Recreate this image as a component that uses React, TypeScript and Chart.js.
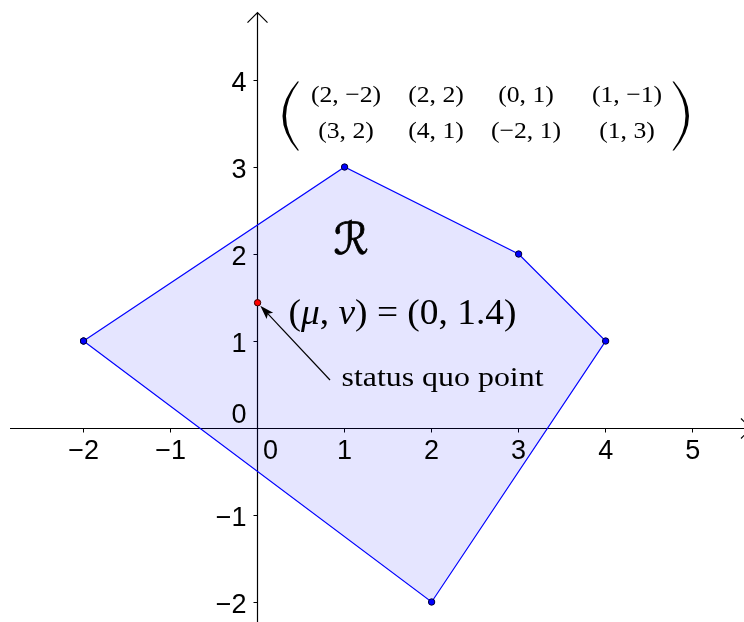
import React, { useEffect, useRef } from 'react';
import { Chart, registerables } from 'chart.js';

Chart.register(...registerables);

// ---- data ----
const polygonX = [-2, 1, 3, 4, 2, -2];
const polygonY = [1, 3, 2, 1, -2, 1];
const statusQuoX = [0];
const statusQuoY = [1.44];
const xTicks = [-2, -1, 0, 1, 2, 3, 4, 5];
const xTickLabels = ['−2', '−1', '0', '1', '2', '3', '4', '5'];
const yTicks = [-2, -1, 0, 1, 2, 3, 4];
const yTickLabels = ['−2', '−1', '0', '1', '2', '3', '4'];
const matrixRow1 = ['(2, −2)', '(2, 2)', '(0, 1)', '(1, −1)'];
const matrixRow2 = ['(3, 2)', '(4, 1)', '(−2, 1)', '(1, 3)'];
const regionLabel = 'ℛ';
const pointLabel = '(μ, ν) = (0, 1.4)';
const arrowLabel = 'status quo point';
const xRange = [-2.96, 5.59];
const yRange = [-2.23, 4.92];

const W = 744;
const H = 622;

function fitText(ctx: CanvasRenderingContext2D, text: string, left: number, baseline: number, width: number) {
  const m = ctx.measureText(text).width;
  ctx.save();
  ctx.translate(left, baseline);
  ctx.scale(width / m, 1);
  ctx.textAlign = 'left';
  ctx.textBaseline = 'alphabetic';
  ctx.fillText(text, 0, 0);
  ctx.restore();
}

function centerText(ctx: CanvasRenderingContext2D, text: string, cx: number, baseline: number, sx: number) {
  ctx.save();
  ctx.translate(cx, baseline);
  ctx.scale(sx, 1);
  ctx.textAlign = 'center';
  ctx.textBaseline = 'alphabetic';
  ctx.fillText(text, 0, 0);
  ctx.restore();
}

function bigParen(ctx: CanvasRenderingContext2D, xEnd: number, top: number, bottom: number, dir: number) {
  // dir = -1 for left paren (bulges left), +1 for right paren
  const mid = (top + bottom) / 2;
  ctx.beginPath();
  ctx.moveTo(xEnd, top);
  ctx.quadraticCurveTo(xEnd + dir * 30, mid, xEnd, bottom);
  ctx.lineTo(xEnd - dir * 1.5, bottom);
  ctx.quadraticCurveTo(xEnd + dir * 24.5, mid, xEnd - dir * 1.5, top);
  ctx.closePath();
  ctx.fill();
}

const overlay = {
  id: 'overlay',
  beforeDatasetsDraw(chart: any) {
    const { ctx } = chart;
    const xs = chart.scales.x;
    const ys = chart.scales.y;
    const x0 = xs.getPixelForValue(0);
    const y0 = Math.round(ys.getPixelForValue(0)) + 0.5;
    const xa = Math.round(x0) - 0.5;
    ctx.save();
    ctx.strokeStyle = '#000';
    ctx.lineWidth = 1.2;
    // x axis with arrow
    const xTip = W + 7;
    ctx.beginPath();
    ctx.moveTo(10, y0);
    ctx.lineTo(xTip, y0);
    ctx.moveTo(xTip - 10, y0 - 10);
    ctx.lineTo(xTip, y0);
    ctx.lineTo(xTip - 10, y0 + 10);
    ctx.stroke();
    // y axis with arrow
    const yTip = 12.7;
    ctx.beginPath();
    ctx.moveTo(xa, H);
    ctx.lineTo(xa, yTip);
    ctx.moveTo(xa - 10, yTip + 10);
    ctx.lineTo(xa, yTip);
    ctx.lineTo(xa + 10, yTip + 10);
    ctx.stroke();
    // ticks
    ctx.lineWidth = 1;
    ctx.beginPath();
    xTicks.forEach((v) => {
      if (v === 0) return;
      const px = Math.round(xs.getPixelForValue(v)) - 0.5;
      ctx.moveTo(px, y0);
      ctx.lineTo(px, y0 + 4);
    });
    yTicks.forEach((v) => {
      if (v === 0) return;
      const py = Math.round(ys.getPixelForValue(v)) + 0.5;
      ctx.moveTo(xa - 4, py);
      ctx.lineTo(xa, py);
    });
    ctx.stroke();
    ctx.restore();
  },
  afterDatasetsDraw(chart: any) {
    const { ctx } = chart;
    const xs = chart.scales.x;
    const ys = chart.scales.y;
    const x0 = xs.getPixelForValue(0);
    const y0 = ys.getPixelForValue(0);
    ctx.save();
    ctx.fillStyle = '#000';
    // tick labels
    ctx.font = '27px "Liberation Sans", Arial, sans-serif';
    ctx.textBaseline = 'middle';
    xTicks.forEach((v, i) => {
      ctx.textAlign = 'center';
      const px = v === 0 ? x0 + 13 : xs.getPixelForValue(v);
      ctx.fillText(xTickLabels[i], px, y0 + 24);
    });
    yTicks.forEach((v, i) => {
      ctx.textAlign = 'right';
      const py = v === 0 ? y0 - 12 : ys.getPixelForValue(v) + 3.5;
      ctx.fillText(yTickLabels[i], x0 - 11, py);
    });

    // matrix
    ctx.font = '24px "Liberation Serif", "Times New Roman", serif';
    const colCenters = [346, 436, 526, 627];
    matrixRow1.forEach((t, i) => centerText(ctx, t, colCenters[i], 101.5, 1.07));
    matrixRow2.forEach((t, i) => centerText(ctx, t, colCenters[i], 138, 1.07));
    bigParen(ctx, 297.5, 81.5, 150.5, -1);
    bigParen(ctx, 674, 81.5, 150.5, 1);

    // region label
    ctx.font = '44px "DejaVu Serif", "DejaVu Sans", serif';
    ctx.textAlign = 'center';
    ctx.textBaseline = 'alphabetic';
    ctx.strokeStyle = '#000';
    ctx.lineWidth = 0.8;
    ctx.fillText(regionLabel, 351, 254);
    ctx.strokeText(regionLabel, 351, 254);

    // point label with italic greek letters
    const runs: { t: string; it: boolean }[] = [];
    for (const ch of pointLabel) {
      const it = /[α-ω]/.test(ch);
      if (runs.length && runs[runs.length - 1].it === it) runs[runs.length - 1].t += ch;
      else runs.push({ t: ch, it });
    }
    const fontReg = '35px "Liberation Serif", "Times New Roman", serif';
    const fontIt = 'italic 35px "Liberation Serif", "Times New Roman", serif';
    let total = 0;
    runs.forEach((r) => {
      ctx.font = r.it ? fontIt : fontReg;
      total += ctx.measureText(r.t).width;
    });
    const left = 288.5;
    const target = 228;
    ctx.save();
    ctx.translate(left, 324);
    ctx.scale(target / total, 1);
    ctx.textAlign = 'left';
    let cx = 0;
    runs.forEach((r) => {
      ctx.font = r.it ? fontIt : fontReg;
      ctx.fillText(r.t, cx, 0);
      cx += ctx.measureText(r.t).width;
    });
    ctx.restore();

    // status quo text
    ctx.font = '28px "Liberation Serif", "Times New Roman", serif';
    fitText(ctx, arrowLabel, 341.5, 386, 202);

    // arrow to status quo point
    const tx = xs.getPixelForValue(statusQuoX[0]);
    const ty = ys.getPixelForValue(statusQuoY[0]);
    const sx = 330;
    const sy = 380;
    const dx = tx - sx;
    const dy = ty - sy;
    const len = Math.hypot(dx, dy);
    const ux = dx / len;
    const uy = dy / len;
    const ex = tx - ux * 4;
    const ey = ty - uy * 4;
    const hl = 14;
    const hw = 4.5;
    ctx.strokeStyle = '#000';
    ctx.lineWidth = 1.2;
    ctx.beginPath();
    ctx.moveTo(sx, sy);
    ctx.lineTo(ex - ux * hl * 0.8, ey - uy * hl * 0.8);
    ctx.stroke();
    ctx.beginPath();
    ctx.moveTo(ex, ey);
    ctx.lineTo(ex - ux * hl - uy * hw, ey - uy * hl + ux * hw);
    ctx.lineTo(ex - ux * hl * 0.8, ey - uy * hl * 0.8);
    ctx.lineTo(ex - ux * hl + uy * hw, ey - uy * hl - ux * hw);
    ctx.closePath();
    ctx.fill();
    ctx.restore();
  },
};

export default function App() {
  const ref = useRef<HTMLCanvasElement | null>(null);
  useEffect(() => {
    if (!ref.current) return;
    const chart = new Chart(ref.current, {
      type: 'scatter',
      data: {
        datasets: [
          {
            label: 'status quo',
            data: statusQuoX.map((x, i) => ({ x, y: statusQuoY[i] })),
            pointRadius: 3.2,
            pointBackgroundColor: '#ff0000',
            pointBorderColor: '#330000',
            pointBorderWidth: 1,
            showLine: false,
          },
          {
            label: 'R',
            data: polygonX.map((x, i) => ({ x, y: polygonY[i] })),
            showLine: true,
            fill: 'shape',
            backgroundColor: 'rgba(0,0,255,0.1)',
            borderColor: '#0000ff',
            borderWidth: 1.2,
            tension: 0,
            pointRadius: 3.2,
            pointBackgroundColor: '#0000ff',
            pointBorderColor: '#000033',
            pointBorderWidth: 1,
          },
        ],
      },
      options: {
        responsive: false,
        animation: false,
        layout: { padding: 0, autoPadding: false },
        plugins: { legend: { display: false }, tooltip: { enabled: false } },
        scales: {
          x: { type: 'linear', min: xRange[0], max: xRange[1], display: false },
          y: { type: 'linear', min: yRange[0], max: yRange[1], display: false },
        },
      },
      plugins: [overlay],
    } as any);
    return () => chart.destroy();
  }, []);
  return (
    <div style={{ position: 'fixed', left: 0, top: 0, width: W, height: H, background: '#fff' }}>
      <canvas ref={ref} width={W} height={H} style={{ display: 'block', width: W, height: H }} />
    </div>
  );
}
